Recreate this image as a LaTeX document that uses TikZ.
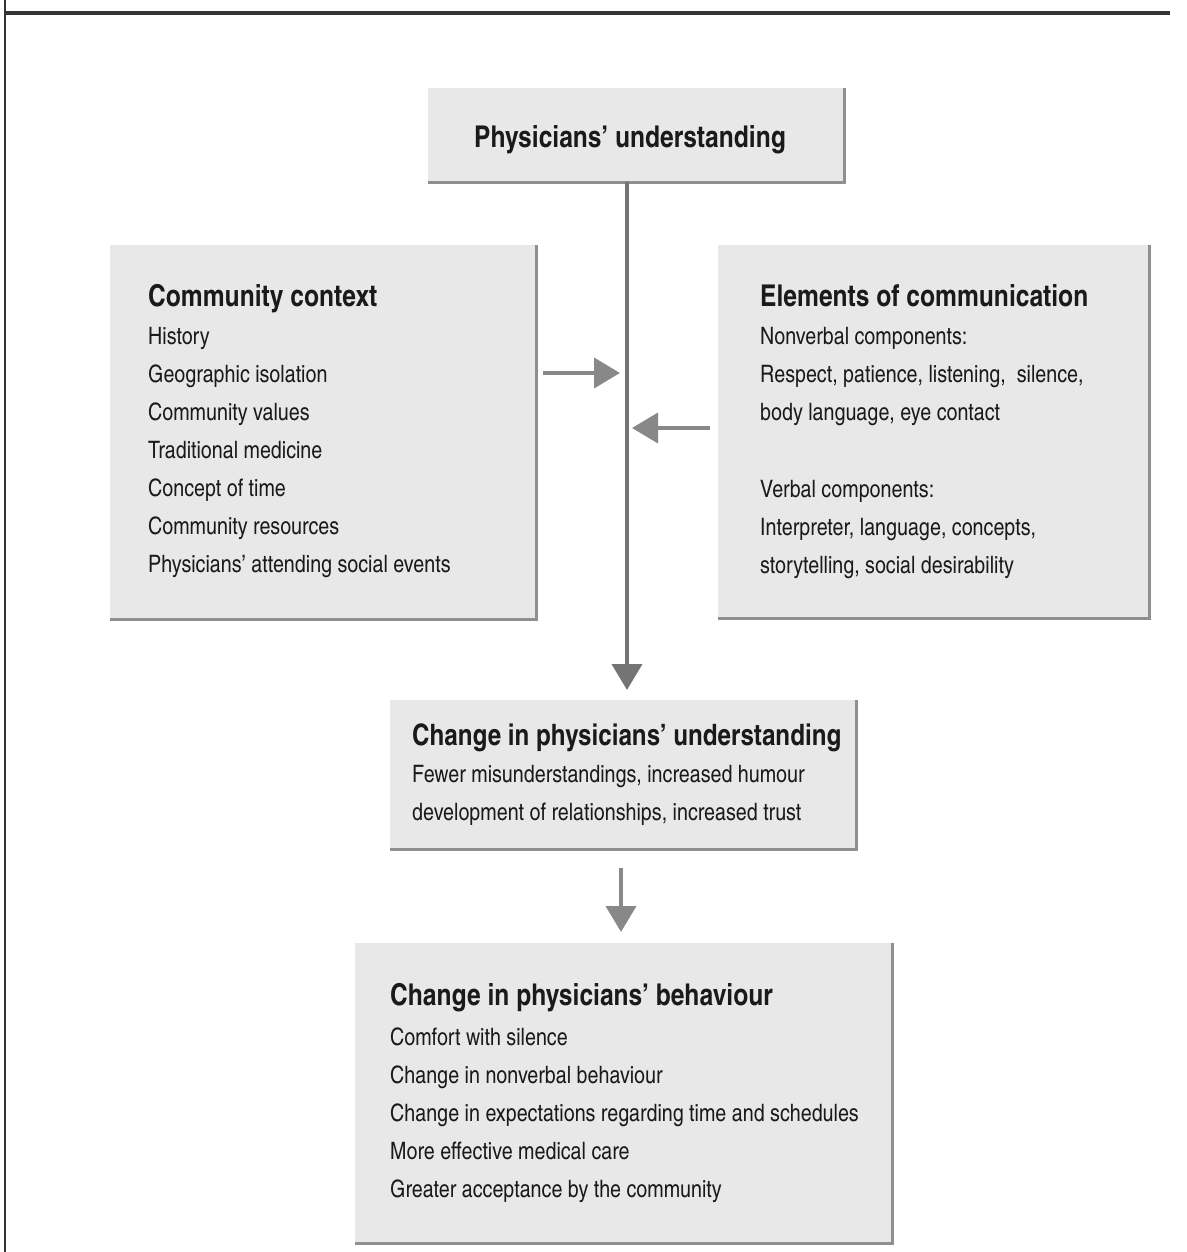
\documentclass[tikz,border=0pt]{standalone}
\usepackage{fontspec}
\setmainfont{texgyreheroscn}[Extension=.otf, UprightFont=*-regular, BoldFont=*-bold]
\usetikzlibrary{arrows.meta}
\definecolor{boxfill}{HTML}{E8E8E8}
\definecolor{edgegray}{HTML}{8F8F8F}
\definecolor{arrowgray}{HTML}{888888}
\definecolor{ink}{HTML}{1A1A1A}
\begin{document}
\begin{tikzpicture}[x=1pt,y=-1pt,
  panel/.style={draw=none, fill=boxfill, anchor=north west, inner sep=0pt},
  shade/.style={draw=edgegray, line width=3pt},
  ttl/.style={anchor=base west, inner sep=0pt, text=ink, font=\fontsize{30}{36}\selectfont\bfseries},
  txt/.style={anchor=base west, inner sep=0pt, text=ink, font=\fontsize{24}{30}\selectfont},
  flow/.style={draw=arrowgray, line width=4pt, -{Triangle[width=30pt,length=26pt]}},
  rule/.style={draw=black!80}]
\useasboundingbox (0,0) rectangle (1186,1252);
% frame rules
\coordinate (rl) at (5,13);
\coordinate (rr) at (1170,13);
\coordinate (vt) at (5,0);
\coordinate (vb) at (5,1252);
\draw[rule, line width=4pt] (rl) -- (rr);
\draw[rule, line width=2pt] (vt) -- (vb);
% boxes
\node[panel, minimum width=416pt, minimum height=94pt] (top) at (428,88) {};
\node[panel, minimum width=426pt, minimum height=374pt] (left) at (110,245) {};
\node[panel, minimum width=431pt, minimum height=373pt] (right) at (718,245) {};
\node[panel, minimum width=466pt, minimum height=149pt] (mid) at (390,700) {};
\node[panel, minimum width=537pt, minimum height=300pt] (bot) at (355,943) {};
\foreach \b in {top,left,right,mid,bot}
  \draw[shade] (\b.north east) -- (\b.south east) -- (\b.south west);
% texts
\node[anchor=base, inner sep=0pt, text=ink, font=\fontsize{30}{36}\selectfont\bfseries] (t0) at (630,148) {Physicians' understanding};

\node[ttl] (l0) at (148,306) {Community context};
\node[txt] (l1) at (148,344) {History};
\node[txt] (l2) at (148,382) {Geographic isolation};
\node[txt] (l3) at (148,420) {Community values};
\node[txt] (l4) at (148,458) {Traditional medicine};
\node[txt] (l5) at (148,496) {Concept of time};
\node[txt] (l6) at (148,534) {Community resources};
\node[txt] (l7) at (148,572) {Physicians' attending social events};

\node[ttl] (r0) at (760,306) {Elements of communication};
\node[txt] (r1) at (760,344) {Nonverbal components:};
\node[txt] (r2) at (760,382) {Respect, patience, listening,\ \ silence,};
\node[txt] (r3) at (760,420) {body language, eye contact};
\node[txt] (r4) at (760,497) {Verbal components:};
\node[txt] (r5) at (760,535) {Interpreter, language, concepts,};
\node[txt] (r6) at (760,573) {storytelling, social desirability};

\node[ttl, font=\fontsize{29.5}{36}\selectfont\bfseries] (m0) at (412,745) {Change in physicians' understanding};
\node[txt] (m1) at (412,782) {Fewer misunderstandings, increased humour};
\node[txt] (m2) at (412,820) {development of relationships, increased trust};

\node[ttl] (b0) at (390,1005) {Change in physicians' behaviour};
\node[txt] (b1) at (390,1045) {Comfort with silence};
\node[txt] (b2) at (390,1083) {Change in nonverbal behaviour};
\node[txt] (b3) at (390,1121) {Change in expectations regarding time and schedules};
\node[txt] (b4) at (390,1159) {More effective medical care};
\node[txt] (b5) at (390,1197) {Greater acceptance by the community};
% connectors
\coordinate (vtop) at (627,182);
\coordinate (vend) at (627,690);
\draw[flow, draw=arrowgray!85!black, fill=arrowgray] (vtop) -- (vend);
\coordinate (ja) at (620,373);
\coordinate (la) at (543,373);
\draw[flow, fill=arrowgray] (la) -- (ja);
\coordinate (jb) at (632,428);
\coordinate (rb) at (710,428);
\draw[flow, fill=arrowgray] (rb) -- (jb);
\coordinate (ma) at (621,868);
\coordinate (mb) at (621,932);
\draw[flow, fill=arrowgray] (ma) -- (mb);
\end{tikzpicture}
\end{document}
